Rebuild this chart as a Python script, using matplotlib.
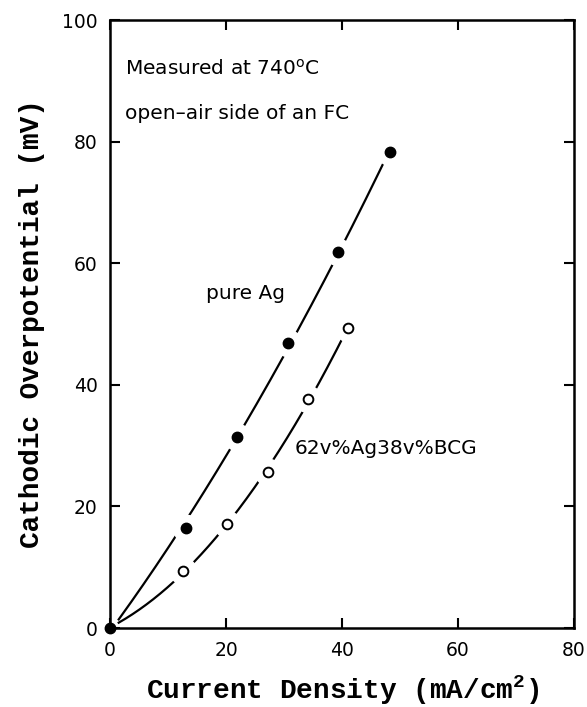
import numpy as np
import matplotlib
matplotlib.use("Agg")
import matplotlib.pyplot as plt

plt.rcParams["mathtext.default"] = "regular"

# data
ag_x = [0, 13.1, 21.9, 30.7, 39.3, 48.3]
ag_y = [0, 16.4, 31.4, 46.9, 61.8, 78.3]
bcg_x = [0, 12.6, 20.2, 27.2, 34.2, 41.0]
bcg_y = [0, 9.4, 17.1, 25.7, 37.7, 49.3]
ticks = [0, 20, 40, 60, 80, 100]

fig = plt.figure(figsize=(5.87, 7.07), dpi=100)
ax = fig.add_axes([0.1874, 0.1117, 0.7906, 0.86])

###smooth fit curves (start just off the origin like the original)
for xs, ys in [(ag_x, ag_y), (bcg_x, bcg_y)]:
    c = np.polyfit(xs, ys, 2)
    xx = np.linspace(1.5, xs[-1], 200)
    ax.plot(xx, np.polyval(c, xx), color="black", lw=1.6, zorder=2)

###markers, with a white ring so the line looks broken
ax.plot(ag_x[1:], ag_y[1:], "o", ms=19, color="white", zorder=3)
ax.plot(bcg_x[1:], bcg_y[1:], "o", ms=19, color="white", zorder=3)
ax.plot(bcg_x[1:], bcg_y[1:], "o", ms=7, mfc="white", mec="black", mew=1.4, zorder=4)
ax.plot(ag_x, ag_y, "o", ms=7.5, color="black", zorder=5, clip_on=False)

tfont = dict(family="DejaVu Sans", fontsize=14.5)
ax.text(2.6, 92, "Measured at 740$^{o}$C", va="center", **tfont)
ax.text(2.6, 84.7, "open\u2013air side of an FC", va="center", **tfont)
ax.text(16.5, 55, "pure Ag", va="center", **tfont)
ax.text(31.8, 29.6, "62v%Ag38v%BCG", va="center", **tfont)

ax.set_xlim(0, 80)
ax.set_ylim(0, 100)
ax.set_xticks(ticks[:5])
ax.set_yticks(ticks)
ax.tick_params(direction="in", length=7, width=1.5, top=True, right=True,
               labelsize=13.5, pad=9)
for s in ax.spines.values():
    s.set_linewidth(1.8)

lfont = dict(family="Liberation Mono", fontsize=20, weight="bold")
ax.set_xlabel("Current Density (mA/cm$^2$)", labelpad=10, **lfont)
ax.set_ylabel("Cathodic Overpotential (mV)", labelpad=12, **lfont)

fig.savefig("out.png", dpi=100)
